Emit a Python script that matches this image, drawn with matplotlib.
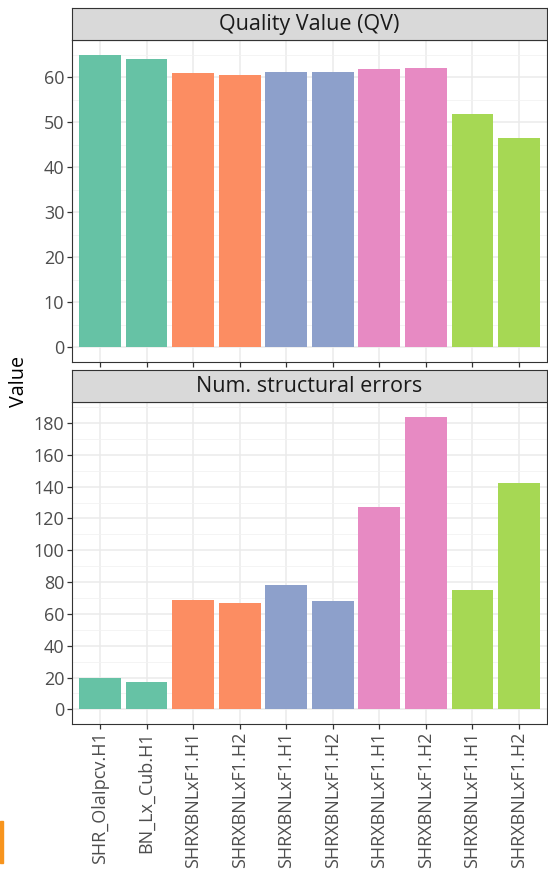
import matplotlib.pyplot as plt
import numpy as np
from matplotlib.patches import Rectangle

samples = ["SHR_OlaIpcv.H1", "BN_Lx_Cub.H1",
           "SHRXBNLxF1.H1", "SHRXBNLxF1.H2",
           "SHRXBNLxF1.H1", "SHRXBNLxF1.H2",
           "SHRXBNLxF1.H1", "SHRXBNLxF1.H2",
           "SHRXBNLxF1.H1", "SHRXBNLxF1.H2"]
groups = [0, 0, 1, 1, 2, 2, 3, 3, 4, 4]
qv = [65.0, 64.1, 61.0, 60.4, 61.1, 61.2, 61.9, 62.1, 51.8, 46.5]
struct_errors = [20, 17, 69, 67, 78, 68, 127, 184, 75, 142]
facet_titles = ["Quality Value (QV)", "Num. structural errors"]
qv_ticks = [0, 10, 20, 30, 40, 50, 60]
err_ticks = [0, 20, 40, 60, 80, 100, 120, 140, 160, 180]

palette = ["#66C2A5", "#FC8D62", "#8DA0CB", "#E78AC3", "#A6D854"]

plt.rcParams['font.family'] = ['Open Sans', 'DejaVu Sans']

W, H = 548, 874
fig = plt.figure(figsize=(W / 100, H / 100), dpi=100)

def px_axes(x0, y0, x1, y1):
    return fig.add_axes([x0 / W, 1 - y1 / H, (x1 - x0) / W, (y1 - y0) / H])

def panel(y_strip, y_top, y_bot, values, ticks, title, show_x):
    ax = px_axes(72, y_top, 547, y_bot)
    x = np.arange(1, len(values) + 1)
    cols = [palette[g] for g in groups]
    ax.bar(x, values, width=0.9, color=cols, zorder=3)
    ax.set_xlim(0.4, len(values) + 0.6)
    vmax = max(values)
    ax.set_ylim(-0.05 * vmax, vmax * 1.05)
    ax.set_yticks(ticks)
    step = ticks[1] - ticks[0]
    minor = [t + step / 2 for t in ticks if t + step / 2 < vmax * 1.05]
    ax.set_yticks(minor, minor=True)
    ax.set_xticks(x)
    ax.grid(True, which='major', color='#EBEBEB', lw=1.1, zorder=0)
    ax.grid(True, which='minor', axis='y', color='#F2F2F2', lw=0.6, zorder=0)
    ax.set_axisbelow(True)
    for s in ax.spines.values():
        s.set_color('#333333')
        s.set_linewidth(0.8)
    ax.tick_params(axis='both', which='major', length=3.5, width=0.9,
                   color='#333333', labelcolor='#4D4D4D', labelsize=13, pad=2)
    ax.tick_params(axis='y', which='minor', length=0)
    if show_x:
        ax.set_xticklabels(samples, rotation=90, va='top', ha='center')
    else:
        ax.set_xticklabels([])
    st = px_axes(72, y_strip, 547, y_top)
    st.set_facecolor('#D9D9D9')
    st.set_xticks([])
    st.set_yticks([])
    for s in st.spines.values():
        s.set_color('#333333')
        s.set_linewidth(0.8)
    st.text(0.5, 0.47, title, ha='center', va='center', fontsize=15.5,
            color='#1A1A1A', transform=st.transAxes)
    return ax

panel(8, 40, 362, qv, qv_ticks, facet_titles[0], False)
panel(370, 402, 724, struct_errors, err_ticks, facet_titles[1], True)

fig.text(19 / W, 1 - 381 / H, "Value", rotation=90, ha='center', va='center',
         fontsize=14.2, color='black')

# small orange mark at the left edge
fig.patches.append(Rectangle((0, 1 - 863 / H), 3 / W, 42 / H,
                             transform=fig.transFigure, color='#F7941D'))

fig.savefig("out.png", dpi=100)
